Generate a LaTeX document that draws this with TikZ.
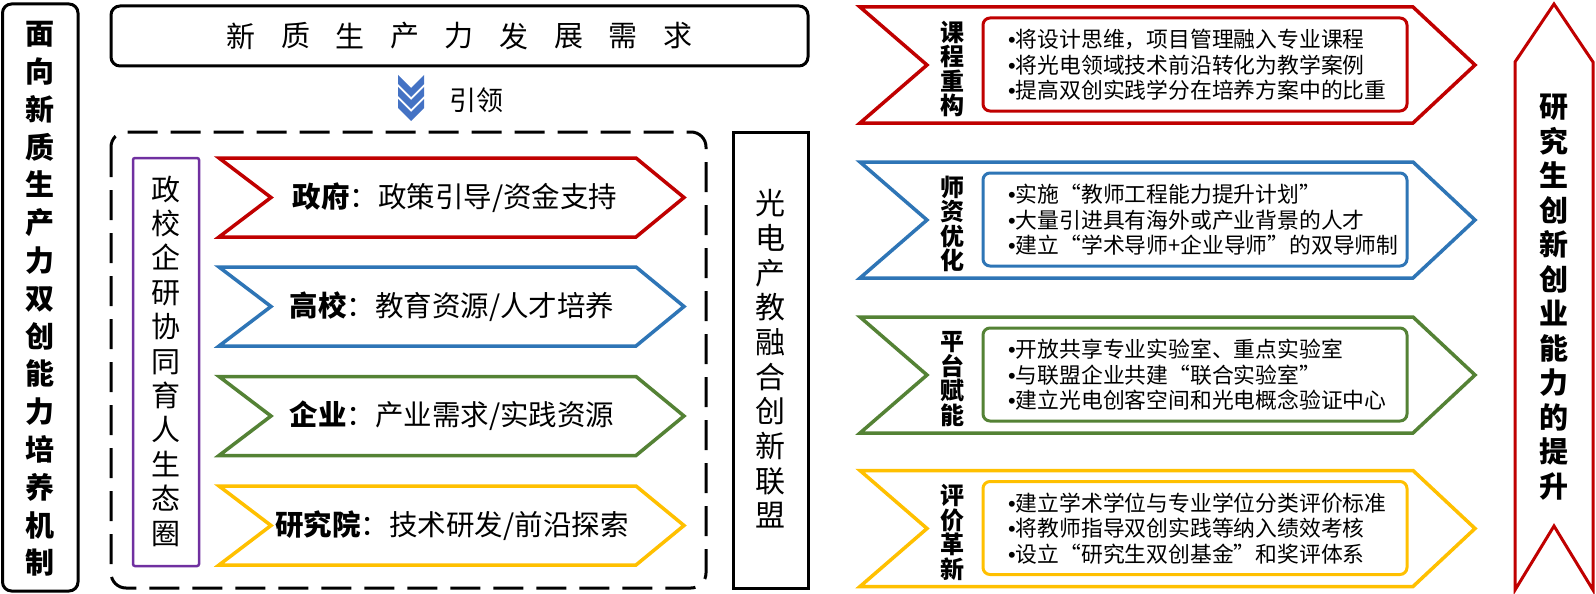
\documentclass[tikz,border=0pt]{standalone}
\usepackage{fontspec}
\setmainfont{Noto Sans CJK SC}
\newfontfamily\bulletfont{Liberation Sans}
\newcommand\bul{{\bulletfont •}}
\definecolor{cred}{HTML}{C00000}
\definecolor{cblue}{HTML}{2E75B6}
\definecolor{cgreen}{HTML}{548235}
\definecolor{cyellow}{HTML}{FFC000}
\definecolor{cpurple}{HTML}{7030A0}
\definecolor{cicon}{HTML}{4472C4}
\newcommand\midchev[2]{\draw[chevline, draw=#1] (219,{#2-39.5}) -- (636,{#2-39.5}) -- (684,#2) -- (636,{#2+39.5}) -- (219,{#2+39.5}) -- (271,#2) -- cycle;}
\newcommand\rightchev[2]{\draw[chevline, draw=#1] (860,{#2-58}) -- (1413,{#2-58}) -- (1475,#2) -- (1413,{#2+58}) -- (860,{#2+58}) -- (927,#2) -- cycle;
\draw[innerbox, draw=#1] (983,{#2-47}) rectangle (1407,{#2+46});}
\newcommand\iconchev[1]{\fill[cicon] (398,#1) -- (411,{#1+13}) -- (424,#1) -- (424,{#1+9}) -- (411,{#1+22}) -- (398,{#1+9}) -- cycle;}
\begin{document}
\begin{tikzpicture}[x=1pt,y=-1pt,
  chevline/.style={line width=3.5pt},
  innerbox/.style={line width=3pt, rounded corners=7pt},
  blackbox/.style={draw=black, line width=3pt},
  vtitle/.style={align=center, inner sep=0pt},
  midtext/.style={font=\fontsize{28.5}{34}\selectfont, inner sep=0pt},
  rlabel/.style={align=center, inner sep=0pt, font=\fontsize{24}{24.5}\selectfont\bfseries},
  rlist/.style={anchor=west, align=left, inner sep=0pt, font=\fontsize{21.8}{25.5}\selectfont}]
\useasboundingbox (0,0) rectangle (1596,594);
\fill[white] (0,0) rectangle (1596,594);

% left title box
\draw[blackbox, rounded corners=9pt] (2.5,4) rectangle (78,591);
\node[vtitle, font=\fontsize{29}{37.8}\selectfont\bfseries] (lefttitle) at (40,299)
 {面\\向\\新\\质\\生\\产\\力\\双\\创\\能\\力\\培\\养\\机\\制};

% top box
\draw[blackbox, rounded corners=9pt] (111,6) rectangle (808,66);
\foreach \c [count=\i from 0] in {新,质,生,产,力,发,展,需,求}
  \node[inner sep=0pt, font=\fontsize{29}{34}\selectfont] (top\i) at ({241+54.6*\i},36) {\c};

% lead icon
\iconchev{75}\iconchev{87}\iconchev{99}
\node[inner sep=0pt, font=\fontsize{27}{32}\selectfont] (lead) at (476,100) {引领};

% dashed frame
\draw[line width=3pt, dash pattern=on 30pt off 13pt, rounded corners=15pt] (111,132) rectangle (706,588);

% purple box
\draw[cpurple, line width=2.5pt, rounded corners=2pt] (133,158) rectangle (199,566);
\node[vtitle, font=\fontsize{29}{34.4}\selectfont] (eco) at (166,361)
 {政\\校\\企\\研\\协\\同\\育\\人\\生\\态\\圈};

% middle chevrons
\midchev{cred}{197.5}
\midchev{cblue}{306.5}
\midchev{cgreen}{416}
\midchev{cyellow}{525.5}
\node[midtext] (gov) at (455,197.5) {\textbf{政府}：政策引导/资金支持};
\node[midtext] (uni) at (452,306.5) {\textbf{高校}：教育资源/人才培养};
\node[midtext] (ent) at (452,416) {\textbf{企业}：产业需求/实践资源};
\node[midtext] (res) at (452,525.5) {\textbf{研究院}：技术研发/前沿探索};

% alliance box
\draw[blackbox] (733,132) rectangle (808,588);
\node[vtitle, font=\fontsize{30}{34.7}\selectfont] (alliance) at (770,359)
 {光\\电\\产\\教\\融\\合\\创\\新\\联\\盟};

% right chevrons
\rightchev{cred}{65}
\rightchev{cblue}{220}
\rightchev{cgreen}{375}
\rightchev{cyellow}{528.5}
\node[rlabel] (l1) at (952,69) {课\\程\\重\\构};
\node[rlabel] (l2) at (952,224) {师\\资\\优\\化};
\node[rlabel] (l3) at (952,379) {平\\台\\赋\\能};
\node[rlabel] (l4) at (952,532.5) {评\\价\\革\\新};
\node[rlist] (t1) at (1008,65) {\bul{}将设计思维，项目管理融入专业课程\\\bul{}将光电领域技术前沿转化为教学案例\\\bul{}提高双创实践学分在培养方案中的比重};
\node[rlist] (t2) at (1008,220) {\bul{}实施“教师工程能力提升计划”\\\bul{}大量引进具有海外或产业背景的人才\\\bul{}建立“学术导师+企业导师”的双导师制};
\node[rlist] (t3) at (1008,375) {\bul{}开放共享专业实验室、重点实验室\\\bul{}与联盟企业共建“联合实验室”\\\bul{}建立光电创客空间和光电概念验证中心};
\node[rlist] (t4) at (1008,528.5) {\bul{}建立学术学位与专业学位分类评价标准\\\bul{}将教师指导双创实践等纳入绩效考核\\\bul{}设立“研究生双创基金”和奖评体系};

% big up arrow
\draw[cred, line width=3pt] (1554,4) -- (1593,62) -- (1593,590) -- (1554,526) -- (1515,590) -- (1515,62) -- cycle;
\node[vtitle, font=\fontsize{29}{34.5}\selectfont\bfseries] (goal) at (1554,297)
 {研\\究\\生\\创\\新\\创\\业\\能\\力\\的\\提\\升};
\end{tikzpicture}
\end{document}
